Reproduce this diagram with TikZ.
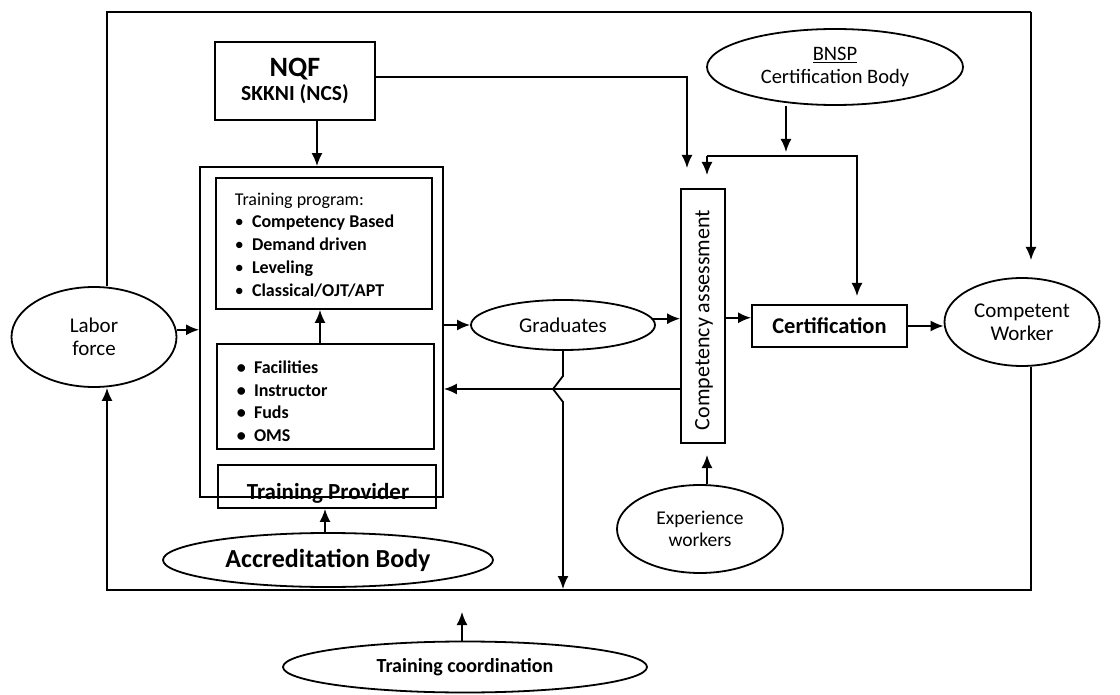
\documentclass[tikz,border=0pt]{standalone}
\usepackage{fontspec}
\setmainfont{Carlito}
\usetikzlibrary{shapes.geometric,arrows.meta,positioning}

\tikzset{
  box/.style={draw,rectangle,inner sep=0pt},
  oval/.style={draw,ellipse,inner sep=0pt,align=center},
  list/.style={anchor=north west,align=left,inner sep=0pt}
}

\begin{document}
\begin{tikzpicture}[x=1pt,y=-1pt,line width=1.8pt,>={Latex[length=13pt,width=11pt]},
  font=\fontsize{21}{23}\selectfont]
		\useasboundingbox (0,0) rectangle (1120,695);
		% nodes
		\node[oval,minimum width=165,minimum height=100] (lab) at (94,337) {Labor\\force};
		\node[box,minimum width=160,minimum height=78,align=center,font=\bfseries] (nqf) at (295,81)
		  {{\fontsize{28}{30}\selectfont NQF}\\[4pt]{\fontsize{21.5}{23}\selectfont SKKNI (NCS)}};
		\node[box,minimum width=243,minimum height=330] (tp) at (321.5,332) {};
		\node[box,minimum width=216,minimum height=131] (prog) at (324,243.5) {};
		\node[list,font=\fontsize{18}{22.7}\selectfont] (progtxt) at (234,192)
		  {Training program:\\\textbullet\ \ \textbf{Competency Based}\\\textbullet\ \ \textbf{Demand driven}\\
		   \textbullet\ \ \textbf{Leveling}\\\textbullet\ \ \textbf{Classical/OJT/APT}};
		\node[box,minimum width=217,minimum height=105] (res) at (325.5,396.5) {};
		\node[list,font=\fontsize{18}{22.7}\selectfont\bfseries] (restxt) at (236,360)
		  {\textbullet\ \ Facilities\\\textbullet\ \ Instructor\\\textbullet\ \ Fuds\\\textbullet\ \ OMS};
		\node[box,minimum width=218,minimum height=43] (prov) at (327,486.5) {};
		\node[font=\fontsize{23}{25}\selectfont\bfseries,anchor=base] (provtxt) at (328,499) {Training Provider};
		\node[oval,minimum width=330,minimum height=54,font=\fontsize{26}{28}\selectfont\bfseries] (accr) at (328,560)
		  {Accreditation Body};
		\node[oval,minimum width=364,minimum height=51,font=\fontsize{20}{22}\selectfont\bfseries] (coord) at (465,667)
		  {Training coordination};
		\node[oval,minimum width=184,minimum height=50] (grad) at (563,325) {Graduates};
		\node[box,minimum width=44,minimum height=254] (ca) at (703,316) {};
		\node[rotate=90,font=\fontsize{22}{24}\selectfont] (catxt) at (704,320) {Competency assessment};
		\node[box,minimum width=155,minimum height=42,font=\fontsize{22.5}{24}\selectfont\bfseries] (cert) at (829.5,326)
		  {Certification};
		\node[oval,minimum width=256,minimum height=76,font=\fontsize{20.5}{23}\selectfont] (bnsp) at (835,67)
		  {\underline{BNSP}\\Certification Body};
		\node[oval,minimum width=155,minimum height=88] (cw) at (1022,322) {Competent\\Worker};
		\node[oval,minimum width=166,minimum height=88,font=\fontsize{19.5}{22}\selectfont] (exp) at (700,529)
		  {Experience\\workers};
		% corners of the loop
		\coordinate (tl) at (107,12);
		\coordinate (tr) at (1031,12);
		\coordinate (br) at (1031,590);
		\coordinate (bl) at (107,590);
		\coordinate (jog) at (553,389);
		\coordinate (bar) at (707,156);
		% straight arrows
		\path[->]
		(lab.5) edge (lab.5 -| tp.west)
		(tp.east |- grad.west) edge (grad.west)
		(grad.4) edge (grad.4 -| ca.west)
		(ca.east |- cert.174) edge (cert.174)
		(cert.east) edge (cert.east -| cw.west)
		(nqf.south -| 317,0) edge (317,0 |- tp.north)
		(res.north -| 320,0) edge (320,0 |- prog.south)
		(accr.north -| 325,0) edge (325,0 |- prov.south)
		(exp.north -| 707,0) edge (707,455)
		(coord.north -| 462,0) edge (462,612)
		(ca.west |- jog) edge (jog -| tp.east)
		(bnsp.south -| 786,0) edge (786,152);
		% loop and branches
		\draw (lab.north -| tl) -- (tl) -- (tr) edge[->] (1031,260);
		\draw[->] (cw.south -| br) -- (br) -- (bl) -- (lab.south -| bl);
		\draw[->] (nqf.east |- 0,77) -| (687,168);
		\draw[->] (bar) -| (707,175);
		\draw[->] (bar) -| (857,296);
		\draw[->] (grad.south) -- (563,376) -- (jog) -- (563,402) -- (563,589);
\end{tikzpicture}
\end{document}
